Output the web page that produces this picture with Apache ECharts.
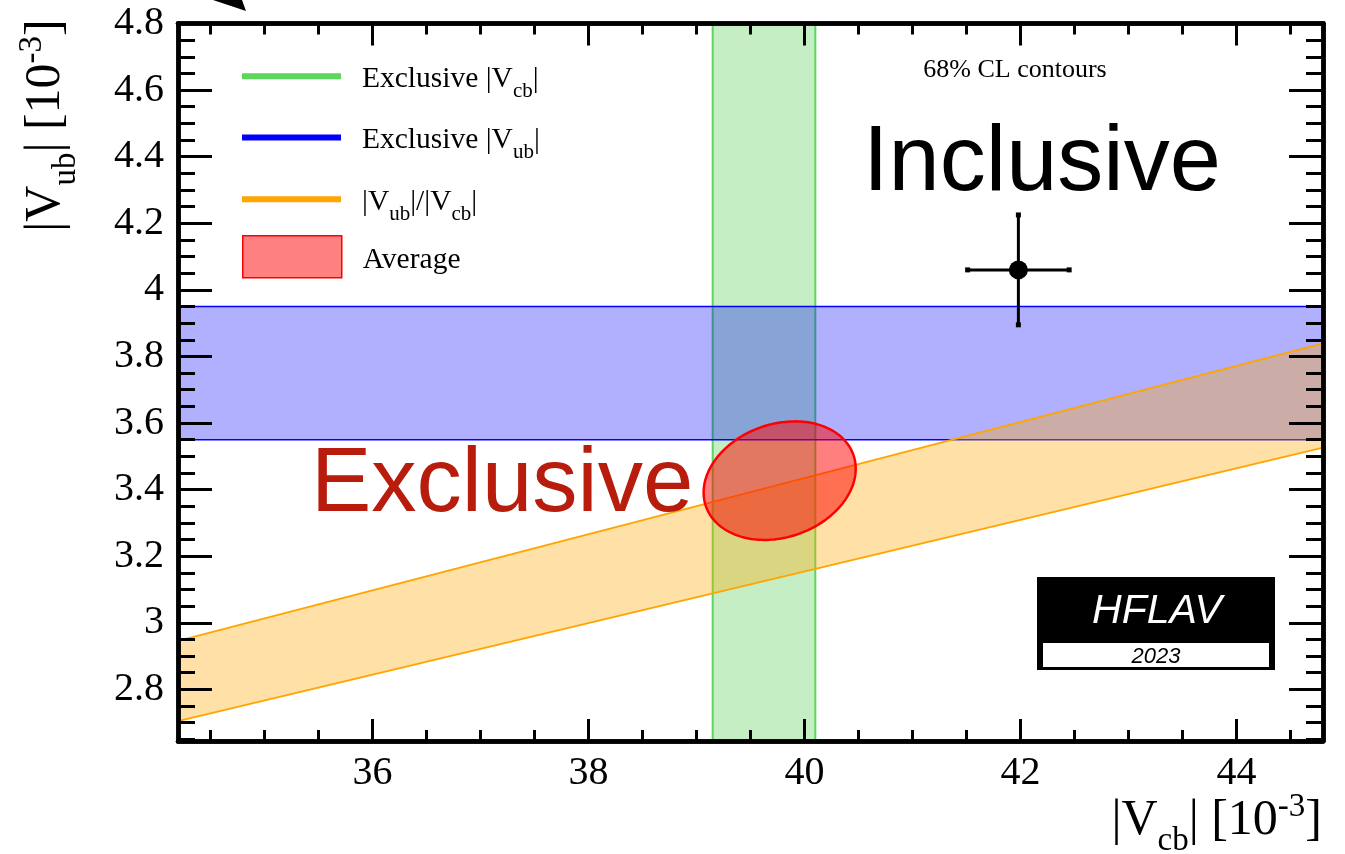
<!DOCTYPE html>
<html>
<head>
<meta charset="utf-8">
<script src="https://cdn.jsdelivr.net/npm/echarts@6/dist/echarts.min.js"></script>
<style>
html, body { margin: 0; padding: 0; background: #ffffff; }
#chart { width: 1345px; height: 854px; }
</style>
</head>
<body>
<div id="chart"></div>
<script>
// ---------------- data ----------------
const xRange = [34.2, 44.8];          // |Vcb| [1e-3] axis range
const yRange = [2.645, 4.8];          // |Vub| [1e-3] axis range
const xMajorTicks = [36, 38, 40, 42, 44];
const xMinorTicks = [34.5, 35, 35.5, 36.5, 37, 37.5, 38.5, 39, 39.5, 40.5, 41, 41.5, 42.5, 43, 43.5, 44.5];
const yMajorTicks = [2.8, 3, 3.2, 3.4, 3.6, 3.8, 4, 4.2, 4.4, 4.6, 4.8];
const yMinorTicks = [2.65, 2.7, 2.75, 2.85, 2.9, 2.95, 3.05, 3.1, 3.15, 3.25, 3.3, 3.35, 3.45, 3.5, 3.55,
                     3.65, 3.7, 3.75, 3.85, 3.9, 3.95, 4.05, 4.1, 4.15, 4.25, 4.3, 4.35, 4.45, 4.5, 4.55,
                     4.65, 4.7, 4.75];

const vcbExclusive = [39.15, 40.1];             // green band (|Vcb| range)
const vubExclusive = [3.55, 3.95];              // blue band (|Vub| range)
const ratioLower = [[34.2, 2.705], [44.8, 3.526]]; // lower edge of |Vub|/|Vcb| band
const ratioUpper = [[34.2, 2.946], [44.8, 3.839]]; // upper edge of |Vub|/|Vcb| band

const averageCenter = [39.77, 3.427];           // 68% CL average contour
const averageHalfExtent = [0.704, 0.178];       // half extent in |Vcb|, |Vub|
const averageCorrelation = 0.2;

const inclusivePoint = [41.98, 4.06];
const inclusiveError = [0.47, 0.165];

const legendNames = ['Exclusive |Vcb|', 'Exclusive |Vub|', '|Vub|/|Vcb|', 'Average'];

// ---------------- styling ----------------
const SERIF = 'Liberation Serif';
const SANS = 'Liberation Sans';
const GREEN_FILL = 'rgba(30,190,30,0.26)';
const GREEN_LINE = '#5cd65c';
const BLUE_FILL = 'rgba(0,0,255,0.31)';
const BLUE_LINE = '#0000ff';
const ORANGE_FILL = 'rgba(255,165,0,0.35)';
const ORANGE_LINE = '#ffa500';
const RED_FILL = 'rgba(255,0,0,0.5)';
const RED_LINE = '#ff0000';

const GRID = { left: 178, top: 23.5, right: 22, bottom: 113 };
const FRAME_W = 4.5;
const TICK_W = 3;

const legendRichText = {
  'Exclusive |Vcb|': '{sp| }{m|Exclusive |V}{s|cb}{m||}',
  'Exclusive |Vub|': '{sp| }{m|Exclusive |V}{s|ub}{m||}',
  '|Vub|/|Vcb|': '{sp| }{m||V}{s|ub}{m||/|V}{s|cb}{m||}',
  'Average': '{sp| }{m|Average}'
};
function legendRich(shift) {
  return {
    sp: { width: 16, fontSize: 10 },
    m: { fontFamily: SERIF, fontSize: 29.5, lineHeight: 44, color: '#000', padding: [shift, 0, 0, 0] },
    s: { fontFamily: SERIF, fontSize: 21, lineHeight: 44, color: '#000', padding: [shift + 24, 0, 0, 0] }
  };
}
function makeLegend(name, top, color, iconH, extraStyle) {
  return {
    data: [{ name: name, icon: 'rect', itemStyle: Object.assign({ color: color, borderWidth: 0 }, extraStyle || {}) }],
    left: 242, top: top, orient: 'vertical', padding: 0,
    itemWidth: 99, itemHeight: iconH, selectedMode: false,
    formatter: n => legendRichText[n],
    textStyle: { rich: legendRich(iconH > 20 ? 7 : 6) }
  };
}

function xAx(grid, pos, ticks, len, labels) {
  return {
    type: 'value', gridIndex: grid, position: pos, min: xRange[0], max: xRange[1], z: 10,
    axisLine: { show: true, onZero: false, lineStyle: { color: '#000', width: FRAME_W } },
    axisTick: { show: true, inside: true, length: len, customValues: ticks, lineStyle: { color: '#000', width: TICK_W } },
    axisLabel: labels ? { show: true, customValues: ticks, margin: 12, fontFamily: SERIF, fontSize: 40, color: '#000' } : { show: false },
    splitLine: { show: false }, minorTick: { show: false }
  };
}
function yAx(grid, pos, ticks, len, labels) {
  return {
    type: 'value', gridIndex: grid, position: pos, min: yRange[0], max: yRange[1], z: 10,
    axisLine: { show: true, onZero: false, lineStyle: { color: '#000', width: FRAME_W } },
    axisTick: { show: true, inside: true, length: len, customValues: ticks, lineStyle: { color: '#000', width: TICK_W } },
    axisLabel: labels ? { show: true, customValues: ticks, margin: 14, fontFamily: SERIF, fontSize: 40, color: '#000' } : { show: false },
    splitLine: { show: false }, minorTick: { show: false }
  };
}

const titleRich = {
  m: { fontFamily: SERIF, fontSize: 50, lineHeight: 80, color: '#000' },
  s: { fontFamily: SERIF, fontSize: 33, lineHeight: 80, color: '#000', padding: [40, 0, 0, 0] },
  u: { fontFamily: SERIF, fontSize: 33, lineHeight: 80, color: '#000', padding: [0, 0, 27, 0] }
};

const chart = echarts.init(document.getElementById('chart'), null, { renderer: 'canvas' });

const option = {
  animation: false,
  backgroundColor: '#ffffff',
  grid: [Object.assign({}, GRID), Object.assign({}, GRID)],
  xAxis: [
    xAx(0, 'bottom', xMajorTicks, 22, true),
    xAx(0, 'top', xMajorTicks, 22, false),
    xAx(1, 'bottom', xMinorTicks, 11, false),
    xAx(1, 'top', xMinorTicks, 11, false)
  ],
  yAxis: [
    yAx(0, 'left', yMajorTicks, 34, true),
    yAx(0, 'right', yMajorTicks, 34, false),
    yAx(1, 'left', yMinorTicks, 17, false),
    yAx(1, 'right', yMinorTicks, 17, false)
  ],
  legend: [
    makeLegend(legendNames[0], 50.7, GREEN_LINE, 6),
    makeLegend(legendNames[1], 112, BLUE_LINE, 6),
    makeLegend(legendNames[2], 173.7, ORANGE_LINE, 6),
    makeLegend(legendNames[3], 235, '#ff8080', 42, { borderColor: RED_LINE, borderWidth: 1.5 })
  ],
  series: [
    {
      name: legendNames[0], type: 'custom', xAxisIndex: 0, yAxisIndex: 0, z: 2,
      itemStyle: { color: GREEN_LINE },
      data: [vcbExclusive],
      renderItem: (params, api) => {
        const a = api.coord([api.value(0), yRange[1]]);
        const b = api.coord([api.value(1), yRange[0]]);
        return { type: 'group', children: [
          { type: 'rect', shape: { x: a[0], y: a[1], width: b[0] - a[0], height: b[1] - a[1] }, style: { fill: GREEN_FILL } },
          { type: 'line', shape: { x1: a[0], y1: a[1], x2: a[0], y2: b[1] }, style: { stroke: GREEN_LINE, lineWidth: 2 } },
          { type: 'line', shape: { x1: b[0], y1: a[1], x2: b[0], y2: b[1] }, style: { stroke: GREEN_LINE, lineWidth: 2 } }
        ] };
      }
    },
    {
      name: legendNames[1], type: 'custom', xAxisIndex: 0, yAxisIndex: 0, z: 3,
      itemStyle: { color: BLUE_LINE },
      data: [vubExclusive],
      renderItem: (params, api) => {
        const a = api.coord([xRange[0], api.value(1)]);
        const b = api.coord([xRange[1], api.value(0)]);
        return { type: 'group', children: [
          { type: 'rect', shape: { x: a[0], y: a[1], width: b[0] - a[0], height: b[1] - a[1] }, style: { fill: BLUE_FILL } },
          { type: 'line', shape: { x1: a[0], y1: a[1], x2: b[0], y2: a[1] }, style: { stroke: BLUE_LINE, lineWidth: 1.5 } },
          { type: 'line', shape: { x1: a[0], y1: b[1], x2: b[0], y2: b[1] }, style: { stroke: BLUE_LINE, lineWidth: 1.5 } }
        ] };
      }
    },
    {
      name: legendNames[2], type: 'custom', xAxisIndex: 0, yAxisIndex: 0, z: 4,
      itemStyle: { color: ORANGE_LINE },
      data: [[ratioLower[0][0], ratioLower[0][1], ratioLower[1][0], ratioLower[1][1],
              ratioUpper[0][0], ratioUpper[0][1], ratioUpper[1][0], ratioUpper[1][1]]],
      renderItem: (params, api) => {
        const l0 = api.coord([api.value(0), api.value(1)]);
        const l1 = api.coord([api.value(2), api.value(3)]);
        const u0 = api.coord([api.value(4), api.value(5)]);
        const u1 = api.coord([api.value(6), api.value(7)]);
        return { type: 'group', children: [
          { type: 'polygon', shape: { points: [l0, l1, u1, u0] }, style: { fill: ORANGE_FILL } },
          { type: 'line', shape: { x1: l0[0], y1: l0[1], x2: l1[0], y2: l1[1] }, style: { stroke: ORANGE_LINE, lineWidth: 1.8 } },
          { type: 'line', shape: { x1: u0[0], y1: u0[1], x2: u1[0], y2: u1[1] }, style: { stroke: ORANGE_LINE, lineWidth: 1.8 } }
        ] };
      }
    },
    {
      name: legendNames[3], type: 'custom', xAxisIndex: 0, yAxisIndex: 0, z: 5,
      itemStyle: { color: '#ff8080' },
      data: [[averageCenter[0], averageCenter[1], averageHalfExtent[0], averageHalfExtent[1], averageCorrelation]],
      renderItem: (params, api) => {
        const cx = api.value(0), cy = api.value(1), ax = api.value(2), ay = api.value(3), rho = api.value(4);
        const pts = [];
        const n = 180;
        for (let i = 0; i < n; i++) {
          const t = 2 * Math.PI * i / n;
          pts.push(api.coord([cx + ax * Math.cos(t), cy + ay * (rho * Math.cos(t) + Math.sqrt(1 - rho * rho) * Math.sin(t))]));
        }
        return { type: 'polygon', shape: { points: pts }, style: { fill: RED_FILL, stroke: RED_LINE, lineWidth: 2.5 } };
      }
    },
    {
      name: 'Inclusive errors', type: 'custom', xAxisIndex: 0, yAxisIndex: 0, z: 6,
      data: [[inclusivePoint[0], inclusivePoint[1], inclusiveError[0], inclusiveError[1]]],
      renderItem: (params, api) => {
        const x = api.value(0), y = api.value(1), ex = api.value(2), ey = api.value(3);
        const L = api.coord([x - ex, y]), R = api.coord([x + ex, y]);
        const T = api.coord([x, y + ey]), B = api.coord([x, y - ey]);
        const cap = (p) => ({ type: 'rect', shape: { x: p[0] - 2.5, y: p[1] - 2.5, width: 5, height: 5 }, style: { fill: '#000' } });
        return { type: 'group', children: [
          { type: 'line', shape: { x1: L[0], y1: L[1], x2: R[0], y2: R[1] }, style: { stroke: '#000', lineWidth: 3 } },
          { type: 'line', shape: { x1: T[0], y1: T[1], x2: B[0], y2: B[1] }, style: { stroke: '#000', lineWidth: 3 } },
          cap(L), cap(R), cap(T), cap(B)
        ] };
      }
    },
    {
      name: 'Inclusive', type: 'scatter', xAxisIndex: 0, yAxisIndex: 0, z: 7,
      symbol: 'circle', symbolSize: 19,
      itemStyle: { color: '#000', opacity: 1 },
      emphasis: { disabled: true },
      data: [inclusivePoint]
    }
  ],
  graphic: [
    { type: 'polygon', z: 100, shape: { points: [[213, 0], [242, 0], [246, 11]] }, style: { fill: '#000' } },
    { type: 'text', z: 100, x: 1015, y: 70,
      style: { text: '68% CL contours', fontFamily: SERIF, fontSize: 26, fill: '#000', align: 'center', verticalAlign: 'middle' } },
    { type: 'text', z: 100, x: 863, y: 165,
      style: { text: 'Inclusive', fontFamily: SANS, fontSize: 92, fill: '#000', align: 'left', verticalAlign: 'middle' } },
    { type: 'text', z: 100, x: 311, y: 486,
      style: { text: 'Exclusive', fontFamily: SANS, fontSize: 90.5, fill: '#b71c0c', align: 'left', verticalAlign: 'middle' } },
    { type: 'rect', z: 100, shape: { x: 1037, y: 577, width: 238, height: 93 }, style: { fill: '#000' } },
    { type: 'rect', z: 101, shape: { x: 1043, y: 643, width: 226, height: 24 }, style: { fill: '#fff' } },
    { type: 'text', z: 102, x: 1157, y: 612,
      style: { text: 'HFLAV', fontFamily: SANS, fontStyle: 'italic', fontSize: 41, fill: '#fff', align: 'center', verticalAlign: 'middle' } },
    { type: 'text', z: 102, x: 1156, y: 656.5,
      style: { text: '2023', fontFamily: SANS, fontStyle: 'italic', fontSize: 22, fill: '#000', align: 'center', verticalAlign: 'middle' } },
    { type: 'text', z: 100, x: 1322, y: 821,
      style: { text: '{m||V}{s|cb}{m|| [10}{u|-3}{m|]}', rich: titleRich, align: 'right', verticalAlign: 'middle' } },
    { type: 'text', z: 100, x: 46, y: 125.5, rotation: Math.PI / 2,
      style: { text: '{m||V}{s|ub}{m|| [10}{u|-3}{m|]}', rich: titleRich, align: 'center', verticalAlign: 'middle' } }
  ]
};

chart.setOption(option);
</script>
</body>
</html>
